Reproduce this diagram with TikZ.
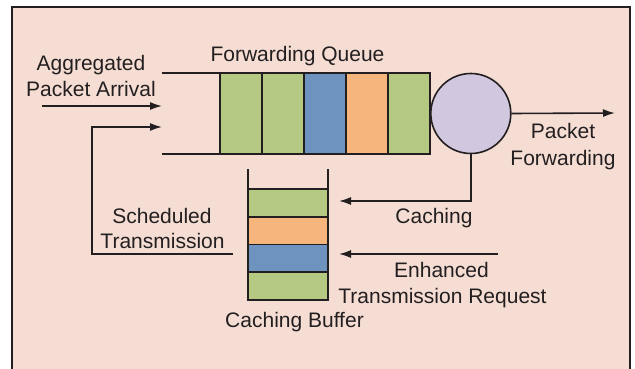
\documentclass[tikz,border=0pt]{standalone}
\usepackage{fontspec}
\setmainfont{Liberation Sans}
\usetikzlibrary{arrows.meta}
\definecolor{bg}{HTML}{F5DDD3}
\definecolor{cgreen}{HTML}{B5C983}
\definecolor{cblue}{HTML}{6F93BF}
\definecolor{corange}{HTML}{F7B57E}
\definecolor{clav}{HTML}{D1C8DF}
\definecolor{ink}{HTML}{231F20}
\tikzset{
  cell/.style={draw=ink, line width=1.6pt, minimum width=42pt, minimum height=81pt, inner sep=0pt, outer sep=0pt},
  bcell/.style={draw=ink, line width=1.6pt, minimum width=80pt, minimum height=27.75pt, inner sep=0pt, outer sep=0pt},
  line/.style={draw=ink, line width=1.6pt},
  arr/.style={line, -{Latex[length=12pt,width=8pt]}},
  lbl/.style={text=ink, font=\fontsize{21}{27}\selectfont, inner sep=0pt, anchor=base}
}
\begin{document}
\begin{tikzpicture}[x=1pt,y=-1pt]
\useasboundingbox (0,0) rectangle (635,369);
\fill[bg] (12,7) rectangle (630,369);
\draw[ink, line width=1.2pt] (12,369) -- (12,7) -- (630,7) -- (630,369);
% forwarding queue
\node[cell, fill=cgreen, anchor=north west] (q1) at (220,73) {};
\node[cell, fill=cgreen, anchor=west] (q2) at (q1.east) {};
\node[cell, fill=cblue, anchor=west] (q3) at (q2.east) {};
\node[cell, fill=corange, anchor=west] (q4) at (q3.east) {};
\node[cell, fill=cgreen, anchor=west] (q5) at (q4.east) {};
\coordinate (qtl) at (162,73);
\coordinate (qbl) at (162,154);
\draw[line] (qtl) -- (q1.north west);
\draw[line] (qbl) -- (q1.south west);
% server
\node[circle, draw=ink, line width=1.6pt, fill=clav, minimum size=80pt, inner sep=0pt, anchor=west] (srv) at (q5.east) {};
\coordinate (out) at (615,113);
\draw[arr] (srv.east) -- (out);
% caching buffer
\node[bcell, fill=cgreen, anchor=north west] (b1) at (248,189) {};
\node[bcell, fill=corange, anchor=north] (b2) at (b1.south) {};
\node[bcell, fill=cblue, anchor=north] (b3) at (b2.south) {};
\node[bcell, fill=cgreen, anchor=north] (b4) at (b3.south) {};
\coordinate (btl) at (248,169);
\coordinate (btr) at (328,169);
\draw[line] (btl) -- (b1.north west);
\draw[line] (btr) -- (b1.north east);
% arrows
\coordinate (ain) at (42,106);
\coordinate (qin1) at (162,106);
\draw[arr] (ain) -- (qin1);
\coordinate (schs) at (233,254);
\coordinate (qin2) at (162,127);
\draw[arr] (schs) -| (92,127) -- (qin2);
\coordinate (cachin) at (339,201);
\draw[arr] (srv.south) |- (cachin);
\coordinate (enhs) at (498,254);
\coordinate (enhe) at (339,254);
\draw[arr] (enhs) -- (enhe);
% labels
\node[lbl] (t1) at (91,71) {Aggregated};
\node[lbl] (t2) at (91,96) {Packet Arrival};
\node[lbl] (t3) at (297.5,62) {Forwarding Queue};
\node[lbl] (t4) at (563,139) {Packet};
\node[lbl] (t5) at (563,165) {Forwarding};
\node[lbl] (t6) at (434,223) {Caching};
\node[lbl] (t7) at (441.5,277) {Enhanced};
\node[lbl] (t8) at (442.5,303) {Transmission Request};
\node[lbl] (t9) at (294.5,327) {Caching Buffer};
\node[lbl] (t10) at (162,223) {Scheduled};
\node[lbl] (t11) at (162.5,248) {Transmission};
\end{tikzpicture}
\end{document}
